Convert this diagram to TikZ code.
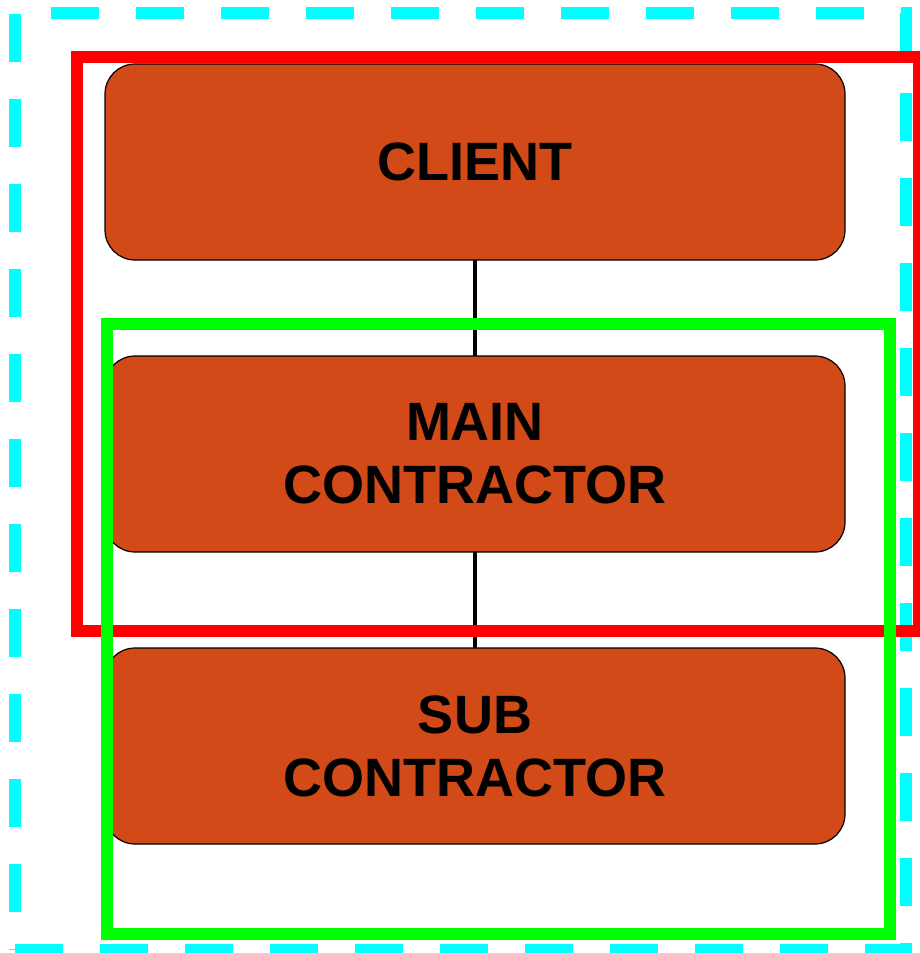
\documentclass[tikz,border=0pt]{standalone}
\usepackage{fontspec}
\setmainfont{Liberation Sans}
\usetikzlibrary{positioning}
\definecolor{boxfill}{RGB}{210,74,23}
\definecolor{zonecyan}{RGB}{0,255,255}
\definecolor{zonered}{RGB}{255,0,0}
\definecolor{zonegreen}{RGB}{0,255,0}
\tikzset{
    partybox/.style={draw=black, line width=1.2pt, fill=boxfill,
        rounded corners=30pt, minimum width=740pt, minimum height=196pt,
        inner sep=0pt, outer sep=0pt, align=center,
        font=\bfseries\fontsize{54}{63}\selectfont},
    partylink/.style={draw=black, line width=4.5pt},
    zoneline/.style={line width=12pt},
}

\begin{document}
\begin{tikzpicture}[x=1pt, y=-1pt, node distance=96pt]
    \useasboundingbox (0, 0) rectangle (920, 953);
    \node[partybox] (client) at (475, 162) {CLIENT};
    \node[partybox, below=of client] (main) {MAIN\\CONTRACTOR};
    \node[partybox, below=of main] (sub) {SUB\\CONTRACTOR};
    \draw[partylink] (client) -- (main);
    \draw[partylink] (main) -- (sub);
    % zones
    \draw[zoneline, zonecyan, dash pattern=on 48pt off 37pt]
        (15, 950) -- (906, 950) -- (906, 13) -- (15, 13) -- cycle;
    \draw[zoneline, zonered] (77, 57) rectangle (919, 631);
    \draw[zoneline, zonegreen] (107, 324) rectangle (890, 934);
\end{tikzpicture}
\end{document}
